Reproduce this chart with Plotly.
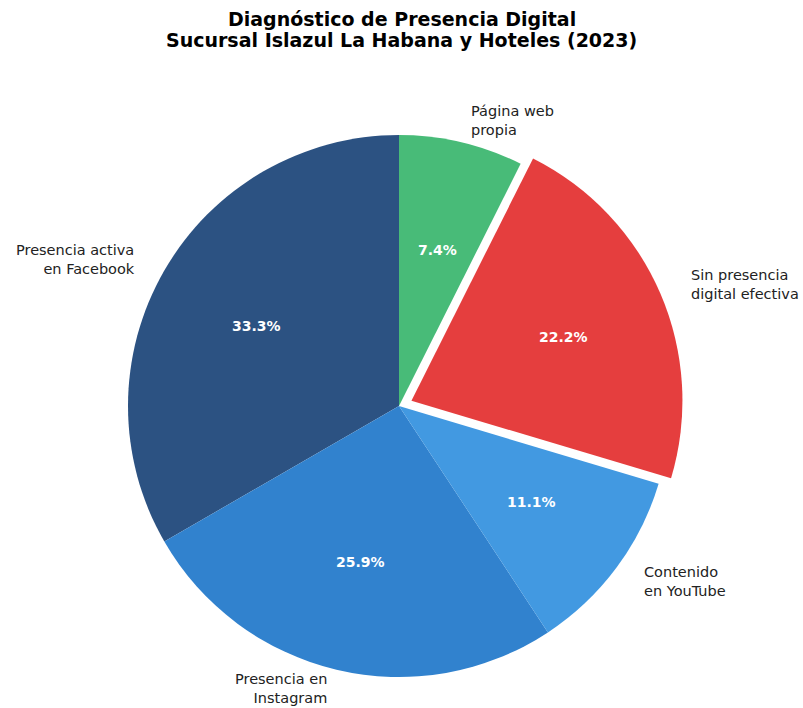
import math
import plotly.graph_objects as go

# ---- data ----
categories = ["Presencia activa<br>en Facebook", "Presencia en<br>Instagram", "Contenido<br>en YouTube",
              "Sin presencia<br>digital efectiva", "Página web<br>propia"]
counts = [9, 7, 3, 6, 2]
colors = ["#2c5282", "#3182ce", "#4299e1", "#e53e3e", "#48bb78"]
pulls = [0, 0, 0, 0.05, 0]
title_lines = ["Diagnóstico de Presencia Digital", "Sucursal Islazul La Habana y Hoteles (2023)"]

W, H = 803, 708
CX, CY, R = 399, 406, 271  # pie centre (px) and radius
RX, RY = 275, 267          # label placement radii (reference is slightly stretched)
max_pull = max(pulls)
box = R * (2 + 2 * max_pull)
dom_x = [(CX - box / 2) / W, (CX + box / 2) / W]
dom_y = [(H - CY - box / 2) / H, (H - CY + box / 2) / H]

total = sum(counts)
# plotly places the first slice clockwise of the rotation angle when counterclockwise;
# rotate so that the first slice starts at 12 o'clock going counterclockwise
rotation = -360 * counts[0] / total

fig = go.Figure(go.Pie(
    labels=categories, values=counts, sort=False, direction="counterclockwise", rotation=rotation,
    pull=pulls, marker=dict(colors=colors, line=dict(width=0)), textinfo="none",
    hoverinfo="label+percent", domain=dict(x=dom_x, y=dom_y), showlegend=False,
))

cum = 0
annotations = []
for lab, v, p in zip(categories, counts, pulls):
    mid = math.radians(90 + 360 * (cum + v / 2) / total)
    cum += v
    c, s = math.cos(mid), math.sin(mid)
    ox = CX + p * RX * c
    oy = CY - p * RY * s
    # percentage label
    px_, py_ = ox + 0.6 * RX * c, oy - 0.6 * RY * s
    annotations.append(dict(x=px_ / W, y=1 - py_ / H, xref="paper", yref="paper",
                            text=f"<b>{100 * v / total:.1f}%</b>", showarrow=False,
                            font=dict(family="DejaVu Sans", size=14, color="white"),
                            xanchor="center", yanchor="middle"))
    # category label (kept inside the page)
    lx, ly = ox + 1.1 * RX * c, oy - 1.1 * RY * s
    ly = min(ly, H - 20)
    side = "left" if c > 0 else "right"
    annotations.append(dict(x=lx / W, y=1 - ly / H, xref="paper", yref="paper",
                            text=lab, showarrow=False, align=side, xanchor=side, yanchor="middle",
                            font=dict(family="DejaVu Sans", size=14.5, color="#222222")))

for line, ypx in zip(title_lines, [19, 40]):
    annotations.append(dict(x=0.5, y=1 - ypx / H, xref="paper", yref="paper", text=f"<b>{line}</b>",
                            showarrow=False, xanchor="center", yanchor="middle",
                            font=dict(family="DejaVu Sans", size=19, color="black")))

fig.update_layout(
    width=W, height=H, margin=dict(l=0, r=0, t=0, b=0),
    paper_bgcolor="white", plot_bgcolor="white",
    annotations=annotations,
)

fig.write_html("out.html")
